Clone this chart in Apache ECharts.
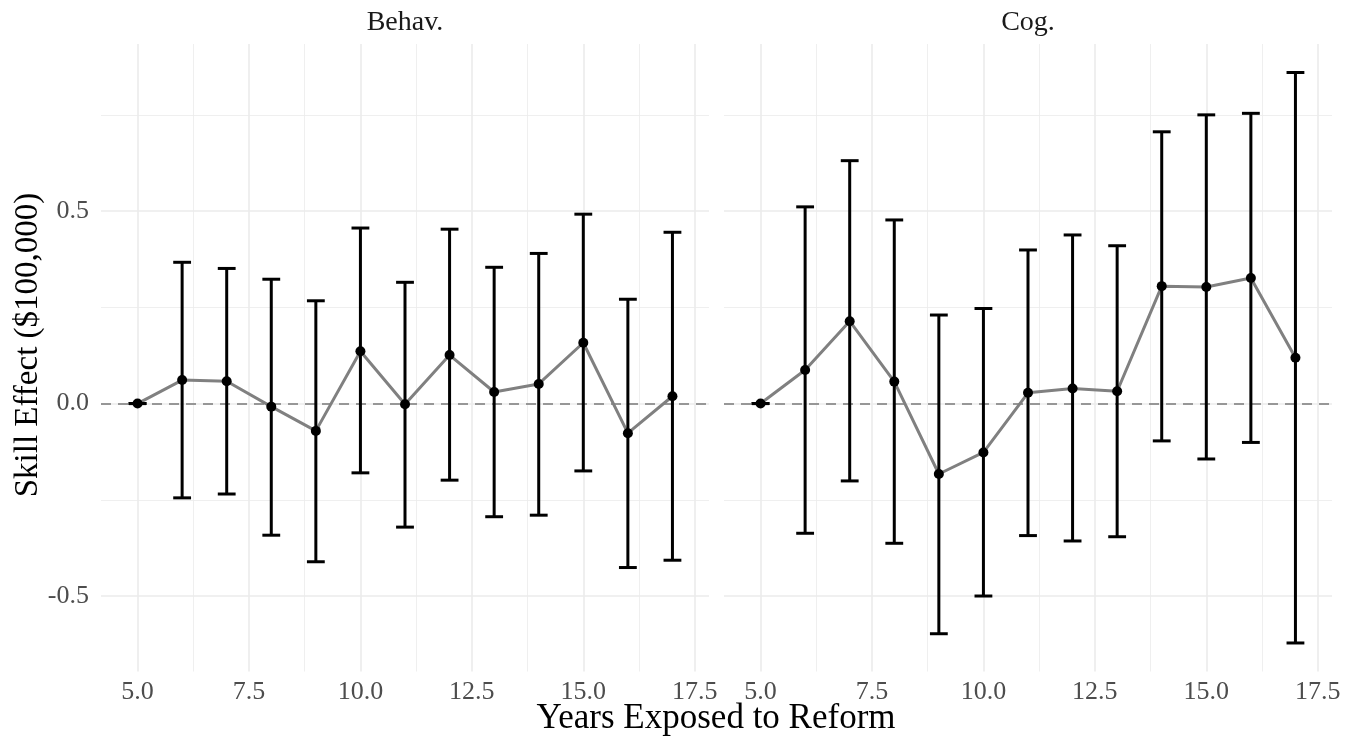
<!DOCTYPE html>
<html>
<head>
<meta charset="utf-8">
<script src="https://cdn.jsdelivr.net/npm/echarts@6/dist/echarts.min.js"></script>
<style>
html, body { margin: 0; padding: 0; background: #fff; }
#main { width: 1357px; height: 742px; }
</style>
</head>
<body>
<div id="main"></div>
<script>
// years of exposure and the two estimated effects with their CIs
var years = [5, 6, 7, 8, 9, 10, 11, 12, 13, 14, 15, 16, 17];

var behavEst  = [0, 0.061, 0.058, -0.008, -0.071, 0.136, -0.002, 0.126, 0.030, 0.051, 0.158, -0.077, 0.019];
var behavLow  = [0, -0.245, -0.235, -0.342, -0.411, -0.180, -0.321, -0.199, -0.294, -0.290, -0.175, -0.426, -0.407];
var behavHigh = [0, 0.367, 0.351, 0.323, 0.267, 0.456, 0.315, 0.453, 0.354, 0.390, 0.492, 0.271, 0.445];

var cogEst  = [0, 0.087, 0.214, 0.057, -0.183, -0.127, 0.028, 0.039, 0.032, 0.305, 0.303, 0.326, 0.119];
var cogLow  = [0, -0.337, -0.201, -0.363, -0.598, -0.500, -0.343, -0.357, -0.346, -0.097, -0.144, -0.101, -0.622];
var cogHigh = [0, 0.511, 0.631, 0.477, 0.230, 0.247, 0.399, 0.438, 0.410, 0.706, 0.750, 0.754, 0.860];

var panels = ['Behav.', 'Cog.'];
var xTicks = [5, 7.5, 10, 12.5, 15, 17.5];
var xMinor = [6.25, 8.75, 11.25, 13.75, 16.25];
var yTicks = [-0.5, 0, 0.5];
var yMinor = [-0.25, 0.25, 0.75];

var FONT = '"Liberation Serif", "DejaVu Serif", serif';
var capHalf = 0.2;

// shared scales, padded 5% like ggplot
var allLow = behavLow.concat(cogLow), allHigh = behavHigh.concat(cogHigh);
var yLo = Math.min.apply(null, allLow), yHi = Math.max.apply(null, allHigh);
var yPad = (yHi - yLo) * 0.05;
var yMin = yLo - yPad, yMax = yHi + yPad;
var xLo = years[0] - capHalf, xHi = years[years.length - 1] + capHalf;
var xPad = (xHi - xLo) * 0.05;
var xMin = xLo - xPad, xMax = xHi + xPad;

var grids = [
  { left: 101, right: 648, top: 44, bottom: 70.5 },
  { left: 724, right: 25, top: 44, bottom: 70.5 }
];

function gridLines() {
  var d = [];
  xTicks.forEach(function (v) { d.push({ xAxis: v, lineStyle: { color: '#ebebeb', width: 1.6, type: 'solid' } }); });
  xMinor.forEach(function (v) { d.push({ xAxis: v, lineStyle: { color: '#ebebeb', width: 0.8, type: 'solid' } }); });
  yTicks.forEach(function (v) { d.push({ yAxis: v, lineStyle: { color: '#ebebeb', width: 1.6, type: 'solid' } }); });
  yMinor.forEach(function (v) { d.push({ yAxis: v, lineStyle: { color: '#ebebeb', width: 0.8, type: 'solid' } }); });
  d.push({ yAxis: 0, lineStyle: { color: '#7a7a7a', width: 1.5, type: [10, 7] } });
  return d;
}

function seg(x1, y1, x2, y2) {
  return {
    type: 'line',
    shape: { x1: x1, y1: y1, x2: x2, y2: y2 },
    style: { stroke: '#000', lineWidth: 3, opacity: 1 }
  };
}

function errorBar(params, api) {
  var x = api.value(0);
  var top = api.coord([x, api.value(2)]);
  var bot = api.coord([x, api.value(1)]);
  var half = api.size([capHalf, 0])[0];
  return {
    type: 'group',
    children: [
      seg(top[0], top[1], bot[0], bot[1]),
      seg(top[0] - half, top[1], top[0] + half, top[1]),
      seg(bot[0] - half, bot[1], bot[0] + half, bot[1])
    ]
  };
}

var sets = [
  { est: behavEst, low: behavLow, high: behavHigh },
  { est: cogEst, low: cogLow, high: cogHigh }
];

var xAxes = [], yAxes = [], series = [];
sets.forEach(function (s, i) {
  xAxes.push({
    type: 'value', gridIndex: i, min: xMin, max: xMax,
    axisLine: { show: false }, axisTick: { show: false }, splitLine: { show: false },
    axisLabel: {
      customValues: xTicks, margin: 8,
      formatter: function (v) { return v.toFixed(1); },
      color: '#4d4d4d', fontSize: 26, fontFamily: FONT
    }
  });
  yAxes.push({
    type: 'value', gridIndex: i, min: yMin, max: yMax,
    axisLine: { show: false }, axisTick: { show: false }, splitLine: { show: false },
    axisLabel: {
      show: i === 0, customValues: yTicks, margin: 12,
      formatter: function (v) { return v.toFixed(1); },
      color: '#4d4d4d', fontSize: 26, fontFamily: FONT
    }
  });
  var pts = years.map(function (y, k) { return [y, s.est[k]]; });
  series.push({
    type: 'line', xAxisIndex: i, yAxisIndex: i, z: 0,
    data: [[years[0], 0]], showSymbol: false, lineStyle: { width: 0 },
    silent: true,
    markLine: { z: 0, silent: true, symbol: ['none', 'none'], label: { show: false }, animation: false, data: gridLines() }
  });
  series.push({
    type: 'line', xAxisIndex: i, yAxisIndex: i, z: 2, silent: true,
    data: pts, showSymbol: false, lineStyle: { color: '#808080', width: 3 }
  });
  series.push({
    type: 'custom', xAxisIndex: i, yAxisIndex: i, z: 3, silent: true,
    data: years.map(function (y, k) { return [y, s.low[k], s.high[k]]; }),
    renderItem: errorBar
  });
  series.push({
    type: 'scatter', xAxisIndex: i, yAxisIndex: i, z: 4, silent: true,
    data: pts, symbolSize: 10, itemStyle: { color: '#000', opacity: 1 }
  });
});

var chart = echarts.init(document.getElementById('main'));
chart.setOption({
  animation: false,
  backgroundColor: '#fff',
  grid: grids,
  xAxis: xAxes,
  yAxis: yAxes,
  series: series,
  graphic: [
    { type: 'text', x: 405, y: 23, style: { text: panels[0], fill: '#1a1a1a', font: '28px ' + FONT, textAlign: 'center', textVerticalAlign: 'middle' } },
    { type: 'text', x: 1028, y: 23, style: { text: panels[1], fill: '#1a1a1a', font: '28px ' + FONT, textAlign: 'center', textVerticalAlign: 'middle' } },
    { type: 'text', x: 716, y: 719, style: { text: 'Years Exposed to Reform', fill: '#000', font: '35px ' + FONT, textAlign: 'center', textVerticalAlign: 'middle' } },
    { type: 'text', x: 28, y: 345, rotation: Math.PI / 2, style: { text: 'Skill Effect ($100,000)', fill: '#000', font: '33px ' + FONT, textAlign: 'center', textVerticalAlign: 'middle' } }
  ]
});
</script>
</body>
</html>
